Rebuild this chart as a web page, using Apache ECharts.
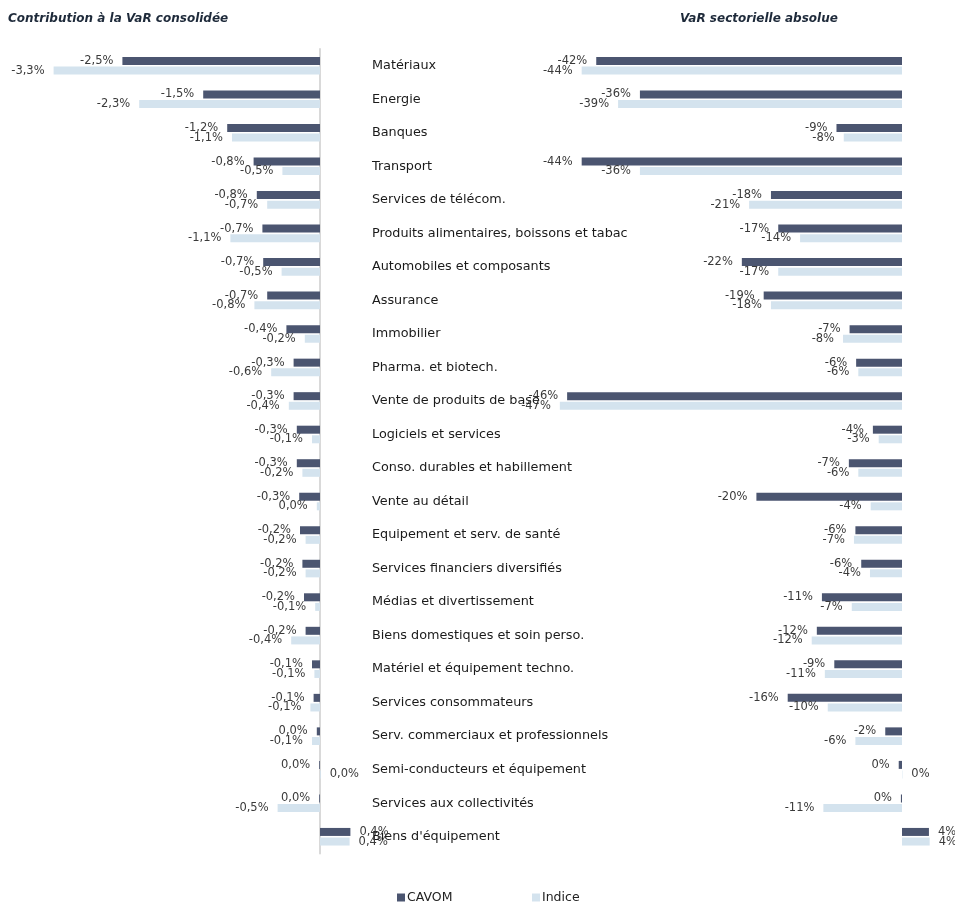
<!DOCTYPE html>
<html>
<head>
<meta charset="utf-8">
<script src="https://cdn.jsdelivr.net/npm/echarts@6/dist/echarts.min.js"></script>
<style>
html,body{margin:0;padding:0;background:#fff;}
#chart{width:955px;height:907px;}
</style>
</head>
<body>
<div id="chart"></div>
<script>
const categories = [
  "Matériaux", "Energie", "Banques", "Transport", "Services de télécom.",
  "Produits alimentaires, boissons et tabac", "Automobiles et composants", "Assurance",
  "Immobilier", "Pharma. et biotech.", "Vente de produits de base", "Logiciels et services",
  "Conso. durables et habillement", "Vente au détail", "Equipement et serv. de santé",
  "Services financiers diversifiés", "Médias et divertissement", "Biens domestiques et soin perso.",
  "Matériel et équipement techno.", "Services consommateurs", "Serv. commerciaux et professionnels",
  "Semi-conducteurs et équipement", "Services aux collectivités", "Biens d'équipement"
];
// Contribution à la VaR consolidée (%)
const contribCAVOM = [-2.47, -1.46, -1.16, -0.83, -0.79, -0.72, -0.71, -0.66, -0.42, -0.33, -0.33, -0.29, -0.29, -0.26, -0.25, -0.22, -0.2, -0.18, -0.1, -0.08, -0.04, -0.01, -0.01, 0.38];
const contribIndice = [-3.33, -2.26, -1.1, -0.47, -0.66, -1.12, -0.48, -0.82, -0.19, -0.61, -0.39, -0.1, -0.22, -0.04, -0.18, -0.18, -0.06, -0.36, -0.07, -0.12, -0.1, 0.01, -0.53, 0.37];
// VaR sectorielle absolue (%)
const varCAVOM = [-42, -36, -9, -44, -18, -17, -22, -19, -7.2, -6.3, -46, -4, -7.3, -20, -6.4, -5.6, -11, -11.7, -9.3, -15.7, -2.3, -0.45, -0.15, 3.7];
const varIndice = [-44, -39, -8, -36, -21, -14, -17, -18, -8.1, -6, -47, -3.2, -6, -4.3, -6.6, -4.4, -6.9, -12.4, -10.6, -10.2, -6.4, 0.05, -10.8, 3.8];

const cDark = '#4b5570';
const cLight = '#d4e3ee';
const FONT = 'DejaVu Sans';

function fmtContrib(v) {
  let s = (Math.round(v * 10) / 10).toFixed(1);
  if (s === '-0.0') s = '0.0';
  return s.replace('.', ',') + '%';
}
function fmtVar(v) {
  return String(Math.round(v)) + '%';
}
function items(arr) {
  return arr.map(v => ({ value: v, label: { position: v < 0 ? 'left' : 'right' } }));
}
const labelBase = { show: true, distance: 9, color: '#3a3a3a', fontFamily: FONT, fontSize: 11.5 };

const gridTop = 49, gridBottom = 907 - 853.5;
const titleStyle = { fontFamily: FONT, fontSize: 12, fontWeight: 'bold', fontStyle: 'italic', color: '#1e2a3a' };

const chart = echarts.init(document.getElementById('chart'));
chart.setOption({
  animation: false,
  backgroundColor: '#fff',
  title: [
    { text: 'Contribution à la VaR consolidée', left: 8, top: 13, padding: 0, textStyle: titleStyle },
    { text: 'VaR sectorielle absolue', left: 680, top: 13, padding: 0, textStyle: titleStyle }
  ],
  legend: [
    { data: ['CAVOM'], left: 397, top: 891, padding: 0, itemWidth: 8, itemHeight: 8, icon: 'rect',
      textStyle: { fontFamily: FONT, fontSize: 12.5, color: '#222', padding: [0, 0, 0, -3] } },
    { data: ['Indice'], left: 532, top: 891, padding: 0, itemWidth: 8, itemHeight: 8, icon: 'rect',
      textStyle: { fontFamily: FONT, fontSize: 12.5, color: '#222', padding: [0, 0, 0, -3] } }
  ],
  grid: [
    { left: 40, width: 320, top: gridTop, bottom: gridBottom },
    { left: 538, width: 400.4, top: gridTop, bottom: gridBottom }
  ],
  xAxis: [
    { type: 'value', gridIndex: 0, min: -3.5, max: 0.5, show: false },
    { type: 'value', gridIndex: 1, min: -50, max: 5, show: false }
  ],
  yAxis: [
    { type: 'category', gridIndex: 0, data: categories, inverse: true, position: 'right',
      axisLine: { show: true, onZero: true, lineStyle: { color: '#d9d9d9', width: 2 } },
      axisTick: { show: false },
      axisLabel: { margin: 12, color: '#1a1a1a', fontFamily: FONT, fontSize: 12.8, align: 'left' },
      splitLine: { show: false } },
    { type: 'category', gridIndex: 1, data: categories, inverse: true, show: false }
  ],
  series: [
    { name: 'CAVOM', type: 'bar', xAxisIndex: 0, yAxisIndex: 0, data: items(contribCAVOM),
      barWidth: 8, barGap: '20%', itemStyle: { color: cDark },
      label: Object.assign({}, labelBase, { formatter: p => fmtContrib(p.value) }) },
    { name: 'Indice', type: 'bar', xAxisIndex: 0, yAxisIndex: 0, data: items(contribIndice),
      barWidth: 8, barGap: '20%', itemStyle: { color: cLight },
      label: Object.assign({}, labelBase, { formatter: p => fmtContrib(p.value) }) },
    { name: 'CAVOM', type: 'bar', xAxisIndex: 1, yAxisIndex: 1, data: items(varCAVOM),
      barWidth: 8, barGap: '20%', itemStyle: { color: cDark },
      label: Object.assign({}, labelBase, { formatter: p => fmtVar(p.value) }) },
    { name: 'Indice', type: 'bar', xAxisIndex: 1, yAxisIndex: 1, data: items(varIndice),
      barWidth: 8, barGap: '20%', itemStyle: { color: cLight },
      label: Object.assign({}, labelBase, { formatter: p => fmtVar(p.value) }) }
  ]
});
</script>
</body>
</html>
